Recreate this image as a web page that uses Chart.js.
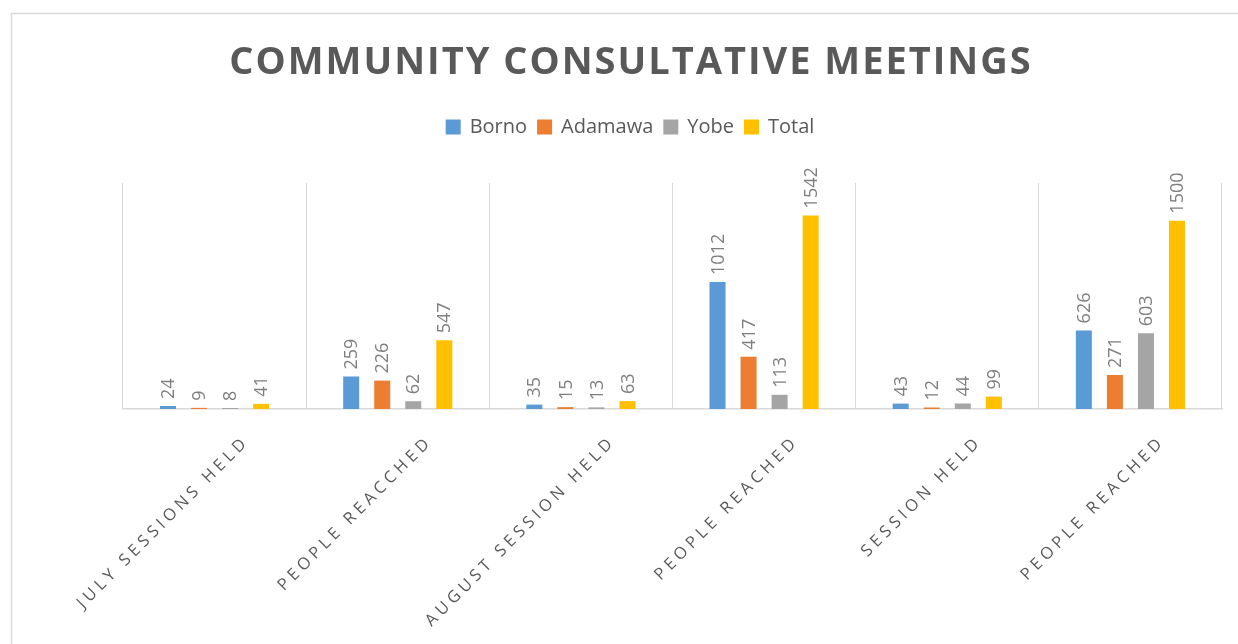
<!DOCTYPE html>
<html>
<head>
<meta charset="utf-8">
<title>Community Consultative Meetings</title>
<script src="https://cdn.jsdelivr.net/npm/chart.js@4.4.1/dist/chart.umd.min.js"></script>
<style>
    html, body { margin: 0; padding: 0; background: #ffffff; }
    #chartWrap { width: 1238px; height: 644px; position: relative; }
</style>
</head>
<body>
<div id="chartWrap"><canvas id="meetingChart" width="1238" height="644"></canvas></div>
<script>
'use strict';

var chartTitle = 'COMMUNITY CONSULTATIVE MEETINGS';
var categories = ['JULY SESSIONS HELD', 'PEOPLE REACCHED', 'AUGUST SESSION HELD', 'PEOPLE REACHED', 'SESSION HELD', 'PEOPLE REACHED'];
var seriesNames = ['Borno', 'Adamawa', 'Yobe', 'Total'];
var borno   = [24, 259, 35, 1012, 43, 626];
var adamawa = [9, 226, 15, 417, 12, 271];
var yobe    = [8, 62, 13, 113, 44, 603];
var total   = [41, 547, 63, 1542, 99, 1500];
var seriesColors = ['#5b9bd5', '#ed7d31', '#a5a5a5', '#ffc000'];

var textGrey = '#595959';
var labelGrey = '#7f7f7f';
var lineGrey = '#d9d9d9';

// title, legend, rotated labels and the frame are drawn here
var decorations = {
    id: 'decorations',
    beforeDraw: function (chart) {
        var ctx = chart.ctx;
        ctx.save();
        ctx.fillStyle = '#ffffff';
        ctx.fillRect(0, 0, chart.width, chart.height);
        ctx.strokeStyle = lineGrey;
        ctx.lineWidth = 1.5;
        ctx.strokeRect(11.5, 13.5, 1400, 800);
        ctx.restore();
    },
    afterDatasetsDraw: function (chart) {
        var ctx = chart.ctx;
        var xScale = chart.scales.x;
        var centerX = 630;

        // title
        ctx.save();
        ctx.font = 'bold 38px "Open Sans"';
        ctx.letterSpacing = '2px';
        ctx.fillStyle = textGrey;
        ctx.textAlign = 'center';
        ctx.textBaseline = 'alphabetic';
        ctx.fillText(chartTitle, centerX + 1, 74);
        ctx.restore();

        // legend
        ctx.save();
        ctx.font = '20px "Open Sans"';
        ctx.textBaseline = 'middle';
        var boxSize = 15, boxGap = 9, itemGap = 10;
        var widths = seriesNames.map(function (n) { return ctx.measureText(n).width; });
        var full = 0;
        widths.forEach(function (w) { full += boxSize + boxGap + w; });
        full += itemGap * (seriesNames.length - 1);
        var lx = centerX - full / 2;
        var ly = 127;
        seriesNames.forEach(function (name, i) {
            ctx.fillStyle = seriesColors[i];
            ctx.fillRect(lx, ly - boxSize / 2, boxSize, boxSize);
            ctx.fillStyle = textGrey;
            ctx.fillText(name, lx + boxSize + boxGap, ly);
            lx += boxSize + boxGap + widths[i] + itemGap;
        });
        ctx.restore();

        // value labels above bars
        ctx.save();
        ctx.font = '18px "Open Sans"';
        ctx.fillStyle = labelGrey;
        ctx.textAlign = 'left';
        ctx.textBaseline = 'middle';
        chart.data.datasets.forEach(function (ds, di) {
            var meta = chart.getDatasetMeta(di);
            meta.data.forEach(function (bar, i) {
                ctx.save();
                ctx.translate(bar.x, bar.y - 7);
                ctx.rotate(-Math.PI / 2);
                ctx.fillText(String(ds.data[i]), 0, 1);
                ctx.restore();
            });
        });
        ctx.restore();

        // category labels at 45 degrees
        ctx.save();
        ctx.font = '16.5px "Open Sans"';
        ctx.letterSpacing = '4.2px';
        ctx.fillStyle = textGrey;
        ctx.textAlign = 'right';
        ctx.textBaseline = 'middle';
        chart.data.labels.forEach(function (label, i) {
            var px = xScale.getPixelForValue(i);
            ctx.save();
            ctx.translate(px + 32, 439);
            ctx.rotate(-Math.PI / 4);
            ctx.fillText(label, 0, 0);
            ctx.restore();
        });
        ctx.restore();
    }
};

var meetingChart = new Chart(document.getElementById('meetingChart'), {
    type: 'bar',
    data: {
        labels: categories,
        datasets: [
            { label: seriesNames[0], data: borno, backgroundColor: seriesColors[0] },
            { label: seriesNames[1], data: adamawa, backgroundColor: seriesColors[1] },
            { label: seriesNames[2], data: yobe, backgroundColor: seriesColors[2] },
            { label: seriesNames[3], data: total, backgroundColor: seriesColors[3] }
        ]
    },
    options: {
        responsive: false,
        animation: false,
        devicePixelRatio: 1,
        categoryPercentage: 0.678,
        barPercentage: 0.516,
        layout: {
            padding: { left: 123, right: 16, top: 183, bottom: 235 }
        },
        plugins: {
            legend: { display: false },
            title: { display: false },
            tooltip: { enabled: false }
        },
        scales: {
            x: {
                grid: { display: true, offset: true, color: lineGrey, lineWidth: 1, drawTicks: false },
                border: { display: true, color: lineGrey, width: 1.5 },
                ticks: { display: false }
            },
            y: {
                display: false,
                min: 0,
                max: 1800
            }
        }
    },
    plugins: [decorations]
});
</script>
</body>
</html>
